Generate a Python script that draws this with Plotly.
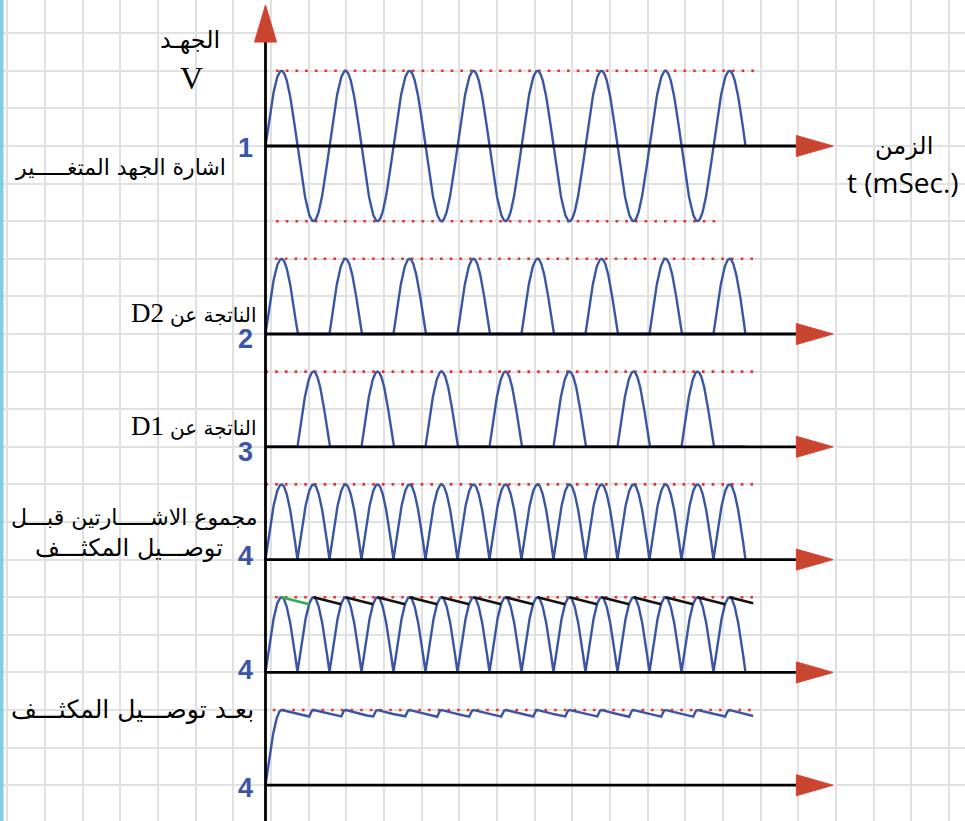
import numpy as np
import plotly.graph_objects as go

# ---------------- data ----------------
PERIOD_MS = 20.0            # period of the alternating voltage
N_HALF_CYCLES = 15          # half cycles drawn (7.5 periods)
V_PEAK = 1.0                # Vm (normalised)
TAU_MS = 88.0               # capacitor discharge time constant
RIPPLE_END_MS = 152.4       # end of the filtered trace
panel_base_v = [8.5, 6.0, 4.5, 3.0, 1.5, 0.0]        # baseline of each trace (V)
panel_numbers = ["1", "2", "3", "4", "4", "4"]
ref_start_ms = [3.3, 3.0, 0.0, 0.0, 3.0, 2.3]        # Vm dotted reference lines
ref_end_ms = [153.6, 153.6, 153.6, 153.6, 153.6, 153.6]
neg_ref_ms = [3.3, 141.4]                           # -Vm dotted line (trace 1)
AXIS_END_MS = 165.9

# ---------------- page geometry ----------------
W, H = 965, 821
X0_PX, PX_PER_MS = 265.5, 3.2
Y0_PX, PX_PER_V = 785.2, 75.2
x_range = [-X0_PX / PX_PER_MS, (W - X0_PX) / PX_PER_MS]
y_range = [-(H - Y0_PX) / PX_PER_V, Y0_PX / PX_PER_V]

BLUE = "#3a55a6"
RED_DOT = "#ee2e2e"
ARROW_FILL = "#c8462f"
ARROW_EDGE = "#e23b2f"

def v_of_px(py):
    return (Y0_PX - py) / PX_PER_V

def ms_of_px(px):
    return (px - X0_PX) / PX_PER_MS

# ---------------- waveforms ----------------
t = np.linspace(0, N_HALF_CYCLES * PERIOD_MS / 2, 1801)
s = V_PEAK * np.sin(2 * np.pi * t / PERIOD_MS)
waves = [s, np.maximum(s, 0), np.maximum(-s, 0), np.abs(s), np.abs(s)]

# filtered (capacitor) output
t6 = np.linspace(0, RIPPLE_END_MS, 3001)
rect6 = np.abs(V_PEAK * np.sin(2 * np.pi * t6 / PERIOD_MS))
v6 = np.zeros_like(t6)
for i in range(1, len(t6)):
    v6[i] = max(rect6[i], v6[i - 1] * np.exp(-(t6[i] - t6[i - 1]) / TAU_MS))

# discharge segments for trace 5
segments = []
for k in range(N_HALF_CYCLES):
    tp = PERIOD_MS / 4 + k * PERIOD_MS / 2
    tt = np.linspace(tp, tp + PERIOD_MS / 2, 600)
    dec = V_PEAK * np.exp(-(tt - tp) / TAU_MS)
    rec = np.abs(V_PEAK * np.sin(2 * np.pi * tt / PERIOD_MS))
    if k < N_HALF_CYCLES - 1:
        idx = np.where((tt > tp + PERIOD_MS / 4) & (rec >= dec))[0][0]
        segments.append((tt[: idx + 1], dec[: idx + 1]))
    else:
        m = tt <= RIPPLE_END_MS
        segments.append((tt[m], dec[m]))

fig = go.Figure()

# dotted Vm reference lines
for b, a0, a1 in zip(panel_base_v, ref_start_ms, ref_end_ms):
    fig.add_trace(go.Scatter(x=[a0, a1], y=[b + V_PEAK, b + V_PEAK], mode="lines",
                             line=dict(color=RED_DOT, width=2.6, dash="2.6px,7.1px"),
                             hoverinfo="skip", showlegend=False))
fig.add_trace(go.Scatter(x=neg_ref_ms, y=[panel_base_v[0] - V_PEAK] * 2, mode="lines",
                         line=dict(color=RED_DOT, width=2.6, dash="2.6px,7.1px"),
                         hoverinfo="skip", showlegend=False))

# signals
for b, w in zip(panel_base_v[:5], waves):
    fig.add_trace(go.Scatter(x=t, y=b + w, mode="lines",
                             line=dict(color=BLUE, width=2.4),
                             hoverinfo="skip", showlegend=False))
fig.add_trace(go.Scatter(x=t6, y=panel_base_v[5] + v6, mode="lines",
                         line=dict(color=BLUE, width=2.4),
                         hoverinfo="skip", showlegend=False))
for k, (tt, dd) in enumerate(segments):
    fig.add_trace(go.Scatter(x=tt, y=panel_base_v[4] + dd, mode="lines",
                             line=dict(color="#2bb04a" if k == 0 else "#111111", width=2.5),
                             hoverinfo="skip", showlegend=False))

# axes + arrows
shapes = []
v_top_tip, v_top_base = v_of_px(5), v_of_px(42)
half_w = 11 / PX_PER_MS
shapes.append(dict(type="line", xref="x", yref="y", x0=0, x1=0, y0=y_range[0], y1=v_top_base,
                   line=dict(color="black", width=2.8), layer="above"))
shapes.append(dict(type="path", xref="x", yref="y",
                   path=f"M{-half_w},{v_top_base} L{half_w},{v_top_base} L0,{v_top_tip} Z",
                   fillcolor=ARROW_FILL, line=dict(color=ARROW_EDGE, width=1), layer="above"))
tip = ms_of_px(833)
half_h = 10.5 / PX_PER_V
for b in panel_base_v:
    shapes.append(dict(type="line", xref="x", yref="y", x0=0, x1=AXIS_END_MS, y0=b, y1=b,
                       line=dict(color="black", width=2.8), layer="above"))
    shapes.append(dict(type="path", xref="x", yref="y",
                       path=f"M{AXIS_END_MS},{b - half_h} L{AXIS_END_MS},{b + half_h} L{tip},{b} Z",
                       fillcolor=ARROW_FILL, line=dict(color=ARROW_EDGE, width=1), layer="above"))
# left cyan border
shapes.append(dict(type="line", xref="paper", yref="paper", x0=0.0018, x1=0.0018, y0=0, y1=1,
                   line=dict(color="#7fcde0", width=3.5), layer="above"))

# ---------------- labels ----------------
annotations = []

def label(text, px, py, size, family="DejaVu Sans", color="black", xanchor="center", bold=False):
    if bold:
        text = "<b>" + text + "</b>"
    annotations.append(dict(text=text, xref="paper", yref="paper", x=px / W, y=1 - py / H,
                            xanchor=xanchor, yanchor="middle", showarrow=False,
                            font=dict(size=size, family=family, color=color)))

AR = "DejaVu Sans"
label("الجهـد", 190, 40, 24, AR)
label("V", 191, 78, 32, "Liberation Serif")
label("اشارة الجهد المتغـــــير", 121, 168, 22, AR)
label("الزمن", 904, 146, 24, AR)
label("t (mSec.)", 903, 182, 28, "Open Sans")
label("D2", 129, 313, 27, "Liberation Serif", xanchor="left")
label("الناتجة عن", 213, 315, 20, AR)
label("D1", 129, 426, 27, "Liberation Serif", xanchor="left")
label("الناتجة عن", 213, 428, 20, AR)
label("مجموع الاشـــــارتين قبـــل", 134, 517, 22, AR)
label("توصـــيل المكثـــف", 129, 548, 24, AR)
label("بعـد توصـــيل المكثـــف", 132, 709, 25, AR)
num_py = [148, 339, 452, 556, 670, 788]
for n, py in zip(panel_numbers, num_py):
    label(n, 245, py, 27, "Liberation Sans", color=BLUE, bold=True)

fig.update_layout(
    width=W, height=H, margin=dict(l=0, r=0, t=0, b=0),
    paper_bgcolor="white", plot_bgcolor="white",
    shapes=shapes, annotations=annotations, showlegend=False,
    xaxis=dict(range=x_range, showgrid=True, gridcolor="#e1e1e1", gridwidth=2,
               tick0=ms_of_px(45), dtick=37.67 / PX_PER_MS, showticklabels=False,
               ticks="", zeroline=False, showline=False, fixedrange=True),
    yaxis=dict(range=y_range, showgrid=True, gridcolor="#e1e1e1", gridwidth=2,
               tick0=0, dtick=0.5, showticklabels=False, ticks="",
               zeroline=False, showline=False, fixedrange=True),
)

fig.write_html("out.html", config={"displayModeBar": False},
               post_script="document.body.style.margin='0';")
